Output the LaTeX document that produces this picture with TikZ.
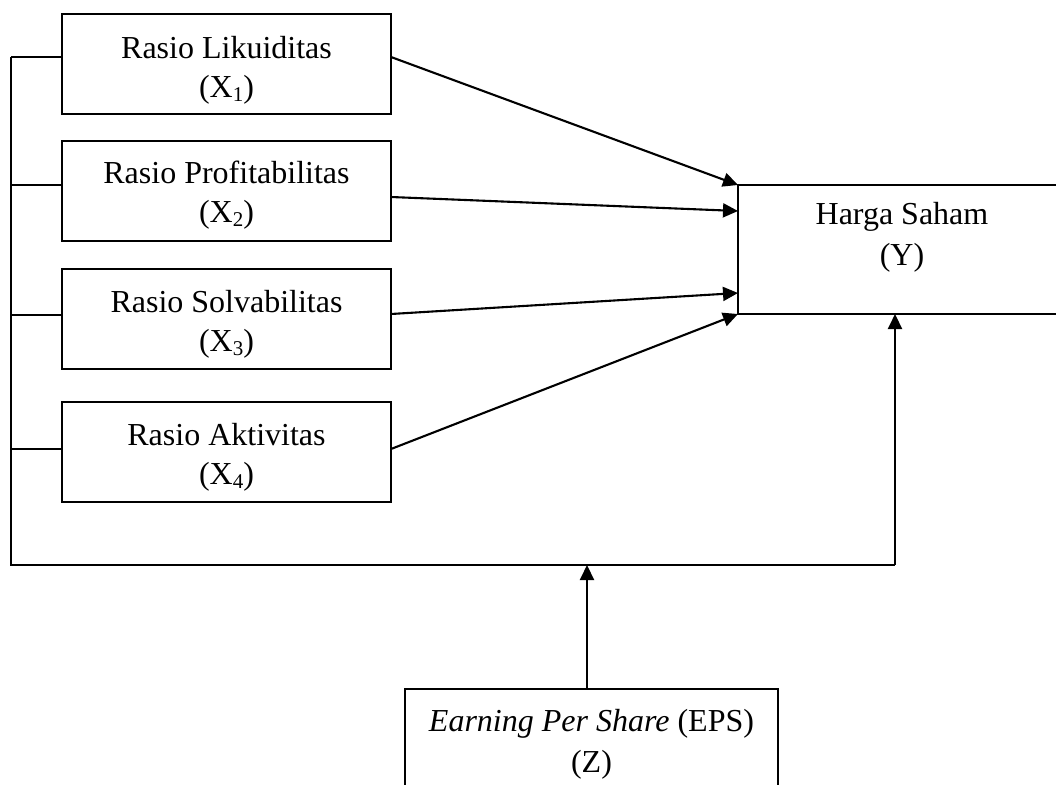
\documentclass[tikz,border=0pt]{standalone}
\usepackage{fontspec}
\setmainfont{Liberation Serif}
\usetikzlibrary{arrows.meta}
\newcommand{\mysub}[1]{\raisebox{-0.12em}{\fontsize{21}{21}\selectfont #1}}
\begin{document}
\begin{tikzpicture}[x=1pt,y=-1pt,
  box/.style={draw, line width=1.8pt, inner sep=0pt, outer sep=0pt, align=center,
    font=\fontsize{32}{41}\selectfont},
  xbox/.style={box, minimum width=329pt, minimum height=100pt, anchor=north west},
  lbl/.style={inner sep=0pt, align=center, font=\fontsize{32}{39}\selectfont},
  wire/.style={line width=1.8pt},
  arr/.style={line width=2.1pt, -{Triangle[length=15pt,width=14pt]}}]
\useasboundingbox (0,0) rectangle (1056,784);
% predictor boxes
\node[xbox] (x1) at (62,14) {};
\node[xbox] (x2) at (62,141) {};
\node[xbox] (x3) at (62,269) {};
\node[xbox] (x4) at (62,402) {};
\node[lbl] (x1t) at ([yshift=-6pt]x1.center) {Rasio Likuiditas\\(X\mysub{1})};
\node[lbl] (x2t) at ([yshift=-4pt]x2.center) {Rasio Profitabilitas\\(X\mysub{2})};
\node[lbl] (x3t) at ([yshift=-5pt]x3.center) {Rasio Solvabilitas\\(X\mysub{3})};
\node[lbl] (x4t) at ([yshift=-5pt]x4.center) {Rasio Aktivitas\\(X\mysub{4})};
% dependent box (extends past right edge)
\node[box, minimum width=328pt, minimum height=129pt, anchor=north west] (y) at (738,185) {};
\node[lbl, font=\fontsize{32}{41}\selectfont] (ylab) at (902,237) {Harga Saham\\(Y)};
% moderator box
\node[box, minimum width=373pt, minimum height=110pt, anchor=north west] (eps) at (405,689) {\textit{Earning Per Share} (EPS)\\(Z)};
% left bus
\coordinate (tl) at (11,57);
\coordinate (bl) at (11,565);
\coordinate (br) at (895,565);
\coordinate (em) at (587,565);
\draw[wire] (tl) -- (bl) -- (br);
\draw[wire] ([yshift=7pt]x1.west) -- ([yshift=7pt]x1.west -| tl);
\draw[wire] ([yshift=6pt]x2.west) -- ([yshift=6pt]x2.west -| tl);
\draw[wire] ([yshift=4pt]x3.west) -- ([yshift=4pt]x3.west -| tl);
\draw[wire] ([yshift=3pt]x4.west) -- ([yshift=3pt]x4.west -| tl);
% arrows into Y
\draw[arr] ([yshift=7pt]x1.east) -- (y.north west);
\draw[arr] ([yshift=-6pt]x2.east) -- ([yshift=-26pt]y.north west);
\draw[arr] ([yshift=5pt]x3.east) -- ([yshift=21pt]y.south west);
\draw[arr] ([yshift=3pt]x4.east) -- (y.south west);
% moderator arrows
\draw[arr] (br) -- (br |- y.south);
\draw[arr] (em |- eps.north) -- (em);
\end{tikzpicture}
\end{document}
